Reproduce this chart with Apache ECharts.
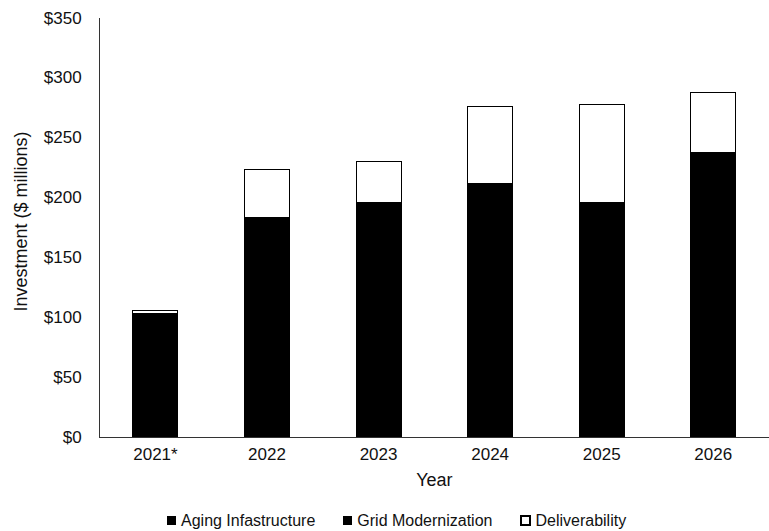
<!DOCTYPE html>
<html>
<head>
<meta charset="utf-8">
<script src="https://cdn.jsdelivr.net/npm/echarts@6/dist/echarts.min.js"></script>
<style>
  html, body { margin: 0; padding: 0; background: #fff; }
  #chart { width: 769px; height: 531px; }
  #chart svg path { shape-rendering: crispEdges; }
</style>
</head>
<body>
<div id="chart"></div>
<script>
// Capital investment by program, $ millions
var years = ['2021*', '2022', '2023', '2024', '2025', '2026'];
var agingInfrastructure = [80, 125, 130, 140, 125, 150];
var gridModernization = [23, 57.7, 65.2, 71, 70.2, 87];
var deliverability = [2.8, 41.3, 35.3, 65.5, 82.8, 51.5];
var yTicks = [0, 50, 100, 150, 200, 250, 300, 350];

var FONT = 'Liberation Sans, Arial, sans-serif';
var chart = echarts.init(document.getElementById('chart'), null, { renderer: 'svg' });

chart.setOption({
  animation: false,
  backgroundColor: '#fff',
  textStyle: { fontFamily: FONT, color: '#111' },
  grid: { left: 99.7, right: -11.7, top: 18, bottom: 94, containLabel: false },
  legend: {
    left: 162,
    top: 507,
    itemWidth: 9,
    itemHeight: 9,
    itemGap: 28,
    icon: 'rect',
    textStyle: { fontFamily: FONT, fontSize: 16, color: '#111' },
    data: ['Aging Infastructure', 'Grid Modernization', 'Deliverability']
  },
  xAxis: {
    type: 'category',
    data: years,
    name: 'Year',
    nameLocation: 'middle',
    nameGap: 34,
    nameTextStyle: { fontFamily: FONT, fontSize: 18, color: '#111' },
    axisLine: { lineStyle: { color: '#333', width: 1 } },
    axisTick: { show: false },
    axisLabel: { fontFamily: FONT, fontSize: 17, color: '#111', margin: 9 }
  },
  yAxis: {
    type: 'value',
    min: yTicks[0],
    max: yTicks[yTicks.length - 1],
    interval: 50,
    name: 'Investment ($ millions)',
    nameLocation: 'middle',
    nameGap: 70,
    nameTextStyle: { fontFamily: FONT, fontSize: 18, color: '#111', padding: [0, 0, 0, 12] },
    axisLine: { show: true, lineStyle: { color: '#333', width: 1 } },
    axisTick: { show: false },
    splitLine: { show: false },
    axisLabel: {
      fontFamily: FONT, fontSize: 17, color: '#111', margin: 18,
      formatter: function (v) { return '$' + v; }
    }
  },
  series: [
    {
      name: 'Aging Infastructure',
      type: 'bar',
      stack: 'total',
      barWidth: 46,
      data: agingInfrastructure,
      itemStyle: { color: '#000' }
    },
    {
      name: 'Grid Modernization',
      type: 'bar',
      stack: 'total',
      barWidth: 46,
      data: gridModernization,
      itemStyle: { color: '#000' }
    },
    {
      name: 'Deliverability',
      type: 'bar',
      stack: 'total',
      barWidth: 46,
      data: deliverability,
      itemStyle: { color: '#fff', borderColor: '#000', borderWidth: 1 }
    }
  ]
});
</script>
</body>
</html>
